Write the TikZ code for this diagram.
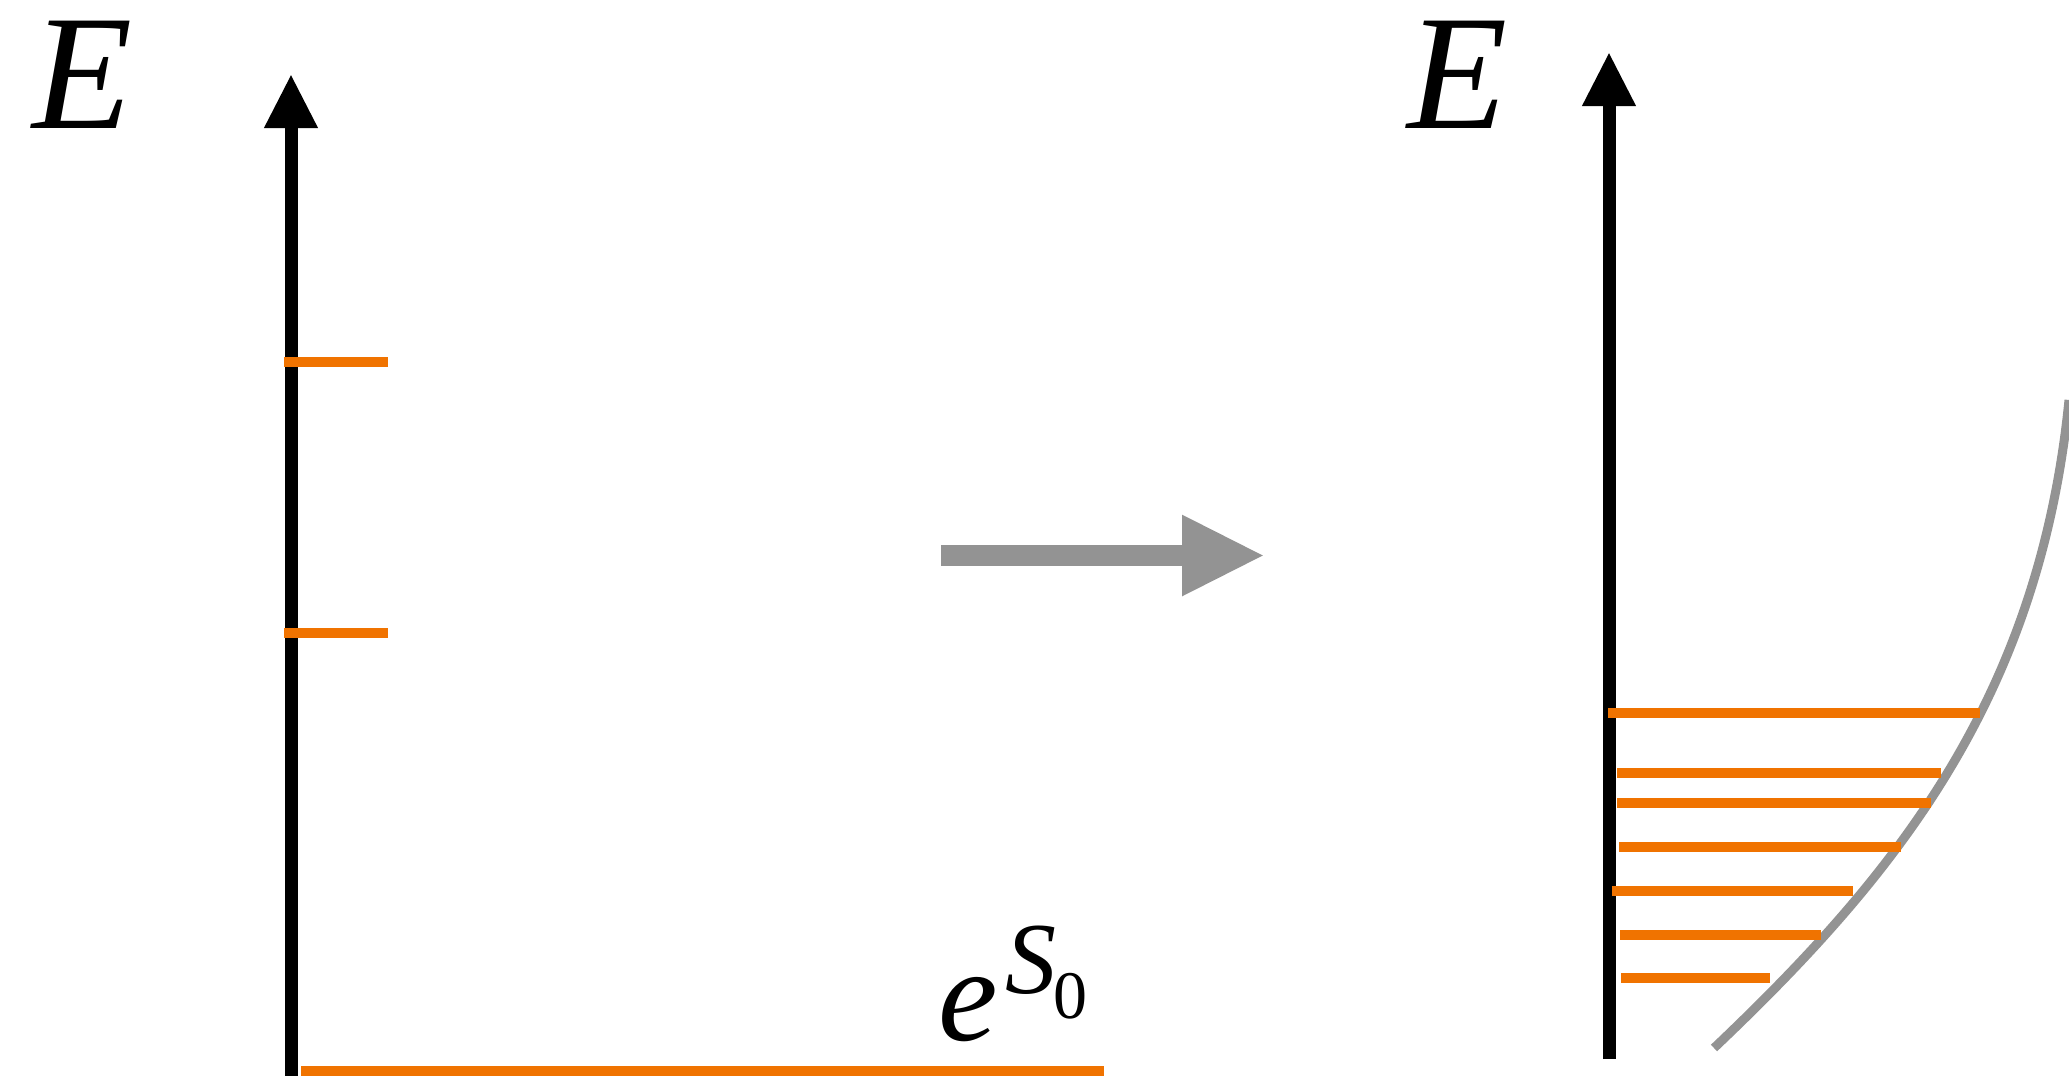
\documentclass[tikz,border=0pt]{standalone}
\usepackage{fontspec}
\setmainfont{Liberation Serif}
\usetikzlibrary{arrows.meta}
\definecolor{lvl}{RGB}{240,115,0}
\definecolor{grayc}{RGB}{147,147,147}
\begin{document}
\begin{tikzpicture}[x=0.5pt,y=-0.5pt,
  axis/.style={line width=6.5pt, -{Triangle[length=27pt,width=25pt]}},
  level/.style={draw=lvl, line width=5pt},
  lbl/.style={inner sep=0pt, anchor=base west, font=\fontsize{82}{90}\selectfont\itshape}]
\useasboundingbox (0,0) rectangle (2069,1076);
\clip (0,0) rectangle (2069,1076);
% labels
\node[lbl] (E1) at (32,128) {E};
\node[lbl] (E2) at (1407,128) {E};
\node[inner sep=0pt, anchor=base west] (eS) at (938,1040)
  {\fontsize{67}{70}\selectfont\itshape e\kern4pt\raisebox{23.5pt}{\fontsize{51}{55}\selectfont S\kern-1.5pt\raisebox{-12.5pt}{\upshape\fontsize{34}{38}\selectfont 0}}};
% left axis
\coordinate (a1s) at (291,1080);
\coordinate (a1e) at (291,74);
\draw[axis] (a1s) -- (a1e);
% left levels
\draw[level] (284,362) -- (388,362);
\draw[level] (284,633) -- (388,633);
\draw[level] (301,1071) -- (1104,1071);
% transition arrow
\coordinate (ts) at (941,555.5);
\coordinate (te) at (1265,555.5);
\draw[grayc, line width=10.5pt, -{Triangle[length=41.5pt,width=37.5pt]}] (ts) -- (te);
% right axis
\coordinate (a2s) at (1609,1059);
\coordinate (a2e) at (1609,52);
\draw[axis] (a2s) -- (a2e);
% curve
\coordinate (c0) at (1714,1048);
\coordinate (c1) at (2069,400);
\draw[grayc, line width=4.5pt] (c0) .. controls (1894,877) and (2039,700) .. (c1);
% right levels
\draw[level] (1608,713) -- (1980,713);
\draw[level] (1617,773) -- (1941,773);
\draw[level] (1617,803) -- (1931,803);
\draw[level] (1619,847) -- (1901,847);
\draw[level] (1612,891) -- (1853,891);
\draw[level] (1620,935) -- (1821,935);
\draw[level] (1621,978) -- (1770,978);
\end{tikzpicture}
\end{document}
